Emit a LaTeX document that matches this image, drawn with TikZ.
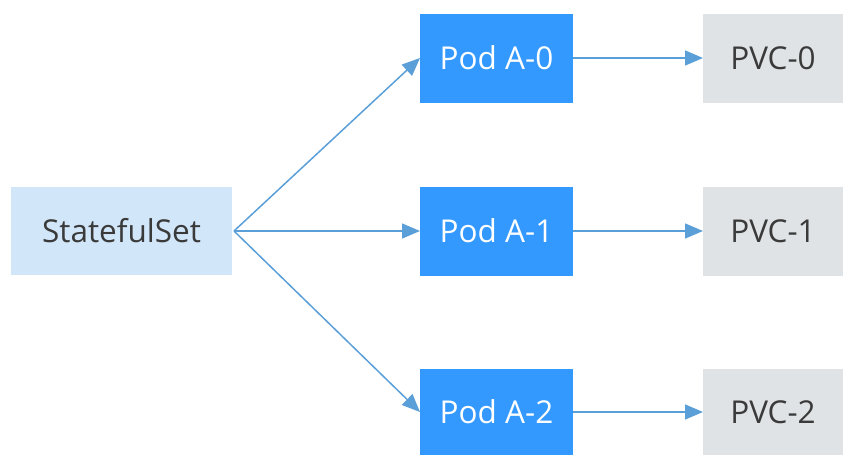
\documentclass[tikz,border=0pt]{standalone}
\usepackage{fontspec}
\setmainfont{Open Sans}
\usetikzlibrary{arrows.meta}
\definecolor{ssfill}{HTML}{D2E6F9}
\definecolor{podfill}{HTML}{3399FF}
\definecolor{pvcfill}{HTML}{DFE3E5}
\definecolor{arrowc}{HTML}{5B9FD8}
\definecolor{txtc}{HTML}{3A3A3A}
\begin{document}
\begin{tikzpicture}[x=1pt,y=-1pt,
  box/.style={inner sep=0pt, outer sep=0pt, font=\fontsize{31.5}{36}\selectfont},
  ssbox/.style={box, fill=ssfill, text=txtc, minimum width=221pt, minimum height=88pt},
  podbox/.style={box, fill=podfill, text=white, minimum width=153pt, minimum height=89pt},
  pvcbox/.style={box, fill=pvcfill, text=txtc, minimum width=140pt, minimum height=89pt},
  conn/.style={draw=arrowc, line width=1.5pt, -{Triangle[length=18pt,width=15pt]}}]
\useasboundingbox (0,0) rectangle (843,455);
\node[ssbox] (ss) at (121.5,231) {StatefulSet};
\node[podbox] (p0) at (496.5,58) {Pod A-0};
\node[podbox] (p1) at (496.5,231) {Pod A-1};
\node[podbox, minimum height=86pt] (p2) at (496.5,412) {Pod A-2};
\node[pvcbox] (v0) at (773,58) {PVC-0};
\node[pvcbox] (v1) at (773,231) {PVC-1};
\node[pvcbox, minimum height=86pt] (v2) at (773,412) {PVC-2};
\coordinate (src) at ([xshift=2pt]ss.east);
\draw[conn] (src) -- (p0.west);
\draw[conn] (src) -- (p1.west);
\draw[conn] (src) -- (p2.west);
\draw[conn] (p0) -- (v0);
\draw[conn] (p1) -- (v1);
\draw[conn] (p2) -- (v2);
\end{tikzpicture}
\end{document}
